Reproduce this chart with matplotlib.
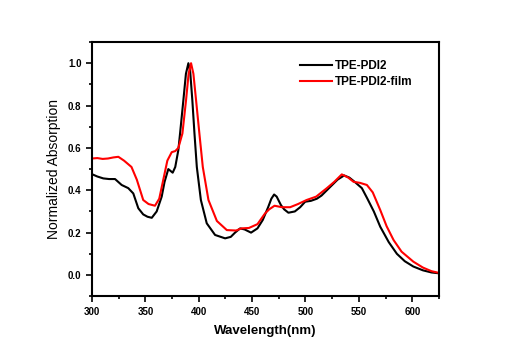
import matplotlib
matplotlib.use('Agg')
import matplotlib.pyplot as plt
from matplotlib.ticker import MultipleLocator

plt.rcParams['font.family'] = ['Liberation Sans', 'DejaVu Sans']

# TPE-PDI2 (solution)
wl_sol = [300, 305, 310.6, 316, 321.6, 327.8, 334, 338.7, 343.4, 348, 352, 356,
          360.6, 365.3, 368, 371.5, 375.6, 378, 380.9, 382.5, 385.6, 388, 390.3,
          392, 394, 396, 398.2, 402, 407.5, 415.3, 424.7, 430, 434, 438.7, 443, 449,
          455, 460, 465, 468, 470.6, 473, 477, 480, 484, 490, 495, 499.7, 505,
          510.6, 515, 520, 525, 530, 536.2, 541, 546, 552.8, 558, 564, 570,
          578, 585.6, 593, 601, 610, 618, 625]
ab_sol = [0.476, 0.465, 0.456, 0.453, 0.453, 0.425, 0.41, 0.385, 0.315, 0.286, 0.275, 0.27,
          0.30, 0.37, 0.44, 0.50, 0.483, 0.51, 0.59, 0.668, 0.825, 0.95, 1.0,
          0.96, 0.825, 0.668, 0.51, 0.354, 0.244, 0.189, 0.173, 0.18, 0.20, 0.22, 0.215, 0.20,
          0.22, 0.26, 0.32, 0.36, 0.38, 0.37, 0.33, 0.31, 0.294, 0.30, 0.32, 0.346, 0.35,
          0.36, 0.375, 0.40, 0.425, 0.45, 0.47, 0.46, 0.44, 0.41, 0.36, 0.30, 0.228,
          0.155, 0.10, 0.065, 0.04, 0.022, 0.012, 0.008]

# TPE-PDI2 film
wl_film = [300, 305, 310, 315, 320, 324.7, 330, 337, 342, 348, 353, 359,
           363, 366.8, 370.6, 374.7, 378, 380.9, 384.7, 388.1, 390.5, 392.8,
           395, 397.5, 400.6, 403.8, 409.1, 417, 426.3, 435, 440, 447, 455, 462,
           466, 471, 478, 485.6, 493, 501, 510, 520, 527, 534, 540, 545, 551,
           557.5, 563, 570, 576, 582.5, 590, 601, 610, 618, 625]
ab_film = [0.55, 0.552, 0.548, 0.55, 0.555, 0.558, 0.54, 0.51, 0.45, 0.354, 0.335, 0.327,
           0.36, 0.45, 0.54, 0.58, 0.585, 0.6, 0.668, 0.825, 0.95, 1.0,
           0.95, 0.825, 0.668, 0.51, 0.354, 0.255, 0.212, 0.21, 0.22, 0.222, 0.24, 0.29,
           0.31, 0.327, 0.32, 0.32, 0.335, 0.354, 0.37, 0.41, 0.44, 0.475, 0.46, 0.44,
           0.435, 0.425, 0.39, 0.307, 0.23, 0.165, 0.11, 0.063, 0.035, 0.018, 0.01]

fig = plt.figure(figsize=(5.11, 3.59), dpi=100)
ax = fig.add_axes([0.180, 0.175, 0.679, 0.708])

ax.plot(wl_sol, ab_sol, color='black', lw=1.5, label='TPE-PDI2')
ax.plot(wl_film, ab_film, color='#ff0000', lw=1.5, label='TPE-PDI2-film')

ax.set_xlim(300, 625)
ax.set_ylim(-0.1, 1.1)
ax.xaxis.set_major_locator(MultipleLocator(50))
ax.xaxis.set_minor_locator(MultipleLocator(25))
ax.yaxis.set_major_locator(MultipleLocator(0.2))
ax.yaxis.set_minor_locator(MultipleLocator(0.1))
ax.tick_params(which='both', direction='out', top=False, right=False, width=1.2)
ax.tick_params(which='major', length=4, labelsize=7)
ax.tick_params(which='minor', length=2.5)
for lbl in ax.get_xticklabels() + ax.get_yticklabels():
    lbl.set_fontweight('bold')
for s in ax.spines.values():
    s.set_linewidth(1.5)

ax.set_xlabel('Wavelength(nm)', fontsize=9.5, fontweight='bold', labelpad=6)
ax.set_ylabel('Normalized Absorption', fontsize=10, labelpad=5)

leg = ax.legend(loc='upper right', bbox_to_anchor=(0.955, 0.97), frameon=False,
                prop={'size': 8.5, 'weight': 'bold'}, handlelength=2.7,
                handletextpad=0.3, labelspacing=0.35)

fig.savefig('out.png', dpi=100)
